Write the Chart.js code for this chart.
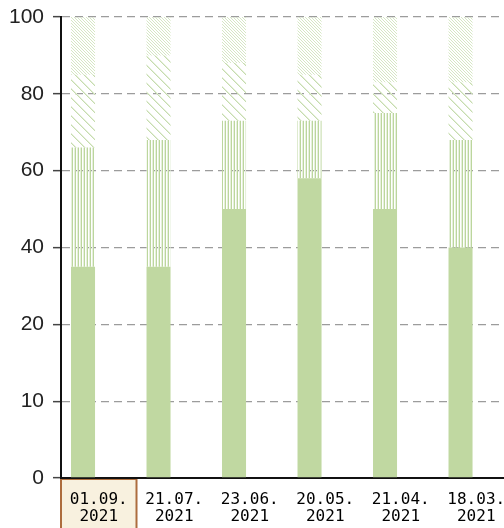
<!DOCTYPE html>
<html><head><meta charset="utf-8">
<script src="https://cdn.jsdelivr.net/npm/chart.js@4"></script>
<style>
html,body{margin:0;padding:0;overflow:hidden;background:#fff;width:504px;height:528px}
#wrap{position:absolute;left:0;top:0;width:520px;height:528px}
</style>
</head><body><div id="wrap"><canvas id="c" width="520" height="528"></canvas></div>
<script>
const categories = [['01.09.','2021'],['21.07.','2021'],['23.06.','2021'],['20.05.','2021'],['21.04.','2021'],['18.03.','2021']];
const tickLabels = [0,10,20,40,60,80,100];
const solidValues = [35,35,50,58,50,40];
const verticalValues = [31,33,23,15,25,28];
const diagonalValues = [19,22,15,12,8,15];
const denseValues = [15,10,12,15,17,17];
const selectedIndex = 0;

function toAxis(v){
  for(let i=1;i<tickLabels.length;i++){
    if(v<=tickLabels[i]){const a=tickLabels[i-1],b=tickLabels[i];return (i-1)+(v-a)/(b-a);}
  }
  return tickLabels.length-1;
}
function makePattern(size, draw){
  const c=document.createElement('canvas');c.width=size;c.height=size;
  const g=c.getContext('2d');draw(g,size);
  return document.getElementById('c').getContext('2d').createPattern(c,'repeat');
}
const green='#c0d8a1';
const patVertical=makePattern(3,(g,s)=>{g.fillStyle='#bcd69d';g.fillRect(0,0,1,s);g.fillStyle='#e6f0dc';g.fillRect(2,0,1,s);});
const patDiagonal=makePattern(9,(g,s)=>{for(let i=0;i<s;i++){g.fillStyle='#c6dcae';g.fillRect(i,i,1,1);g.fillStyle='#e4efd8';g.fillRect((i+1)%s,i,1,1);}});
const patDense=makePattern(3,(g,s)=>{for(let i=0;i<s;i++){g.fillStyle='#d6e7c4';g.fillRect(i,i,1,1);}});

const series=[solidValues,verticalValues,diagonalValues,denseValues];
const fills=[green,patVertical,patDiagonal,patDense];
const datasets=[];
const base=categories.map(()=>0);
series.forEach((vals,k)=>{
  const data=vals.map((v,i)=>{const lo=base[i];const hi=lo+v;base[i]=hi;return [toAxis(lo),toAxis(hi)];});
  datasets.push({data,backgroundColor:fills[k],borderWidth:0,stack:'main',categoryPercentage:0.833,barPercentage:0.764});
});
datasets.push({data:categories.map(()=>0),backgroundColor:'rgba(0,0,0,0)',borderWidth:0,stack:'ghost',categoryPercentage:0.833,barPercentage:0.764});

const highlight={id:'highlight',beforeDraw(chart){
  const xs=chart.scales.x, ctx=chart.ctx, W=xs.width/categories.length;
  const cx=xs.getPixelForValue(selectedIndex);
  const top=chart.chartArea.bottom+1;
  ctx.save();
  ctx.fillStyle='#f8f1df';ctx.fillRect(cx-W/2,top,W,chart.height);
  ctx.strokeStyle='#ad6d3e';ctx.lineWidth=2;ctx.strokeRect(cx-W/2,top,W,chart.height);
  ctx.restore();
}};

new Chart(document.getElementById('c'),{
  type:'bar',
  data:{labels:categories,datasets},
  plugins:[highlight],
  options:{
    responsive:false,animation:false,
    layout:{padding:{top:17,right:6,left:0,bottom:0}},
    plugins:{legend:{display:false},tooltip:{enabled:false}},
    scales:{
      x:{type:'category',stacked:true,offset:true,
        grid:{display:false,drawTicks:false},
        border:{display:true,color:'#111',width:2},
        ticks:{color:'#000',font:{family:'DejaVu Sans Mono',size:16,lineHeight:1.02},padding:14,maxRotation:0,autoSkip:false},
        afterFit:s=>{s.height=50;s.paddingLeft=0;s.paddingRight=0;}},
      y:{min:0,max:6,stacked:false,
        grid:{color:'#9c9c9c',lineWidth:1.3,tickLength:8,tickColor:'#444',tickWidth:1.5,tickBorderDash:[]},
        border:{display:true,color:'#111',width:2,dash:[8,5]},
        ticks:{stepSize:1,color:'#222',padding:9,font:{family:'Liberation Sans',size:21},callback:v=>tickLabels[v]},
        afterFit:s=>{s.width=61;s.paddingTop=0;s.paddingBottom=0;}}
    }
  }
});
</script></body></html>
